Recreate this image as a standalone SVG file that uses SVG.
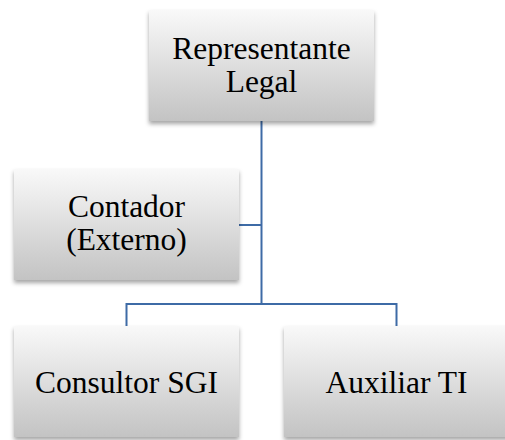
<svg xmlns="http://www.w3.org/2000/svg" width="505" height="440" viewBox="0 0 505 440">
  <style>
    .box { fill: url(#g); filter: url(#sh); }
    .lbl { font-size: 31.5px; fill: #000; text-anchor: middle; }
    .conn { stroke: #3e6ba6; stroke-width: 2; fill: none; }
  </style>
  <defs>
    <linearGradient id="g" x1="0" y1="0" x2="0" y2="1">
      <stop offset="0" stop-color="#f9f9f9"/>
      <stop offset="1" stop-color="#c3c3c3"/>
    </linearGradient>
    <filter id="sh" x="-10%" y="-10%" width="120%" height="130%">
      <feDropShadow dx="0" dy="3" stdDeviation="2" flood-color="#000" flood-opacity="0.35"/>
    </filter>
  </defs>
  <g id="connectors">
    <path class="conn" d="M261.5 121 V304"/>
    <path class="conn" d="M239 225 H261.5"/>
    <path class="conn" d="M126.5 326 V304 H396.5 V326"/>
  </g>
  <g font-family="Liberation Serif, Times New Roman, DejaVu Serif, serif">
    <g id="representante">
      <rect class="box" x="149" y="10" width="225" height="111"/>
      <text class="lbl" x="261.5" y="58.5">Representante</text>
      <text class="lbl" x="261.5" y="91.5">Legal</text>
    </g>
    <g id="contador">
      <rect class="box" x="14" y="169" width="225" height="111"/>
      <text class="lbl" x="126.5" y="217">Contador</text>
      <text class="lbl" x="126.5" y="250">(Externo)</text>
    </g>
    <g id="consultor">
      <rect class="box" x="14" y="326" width="225" height="111"/>
      <text class="lbl" x="126.5" y="393">Consultor SGI</text>
    </g>
    <g id="auxiliar">
      <rect class="box" x="284" y="326" width="225" height="111"/>
      <text class="lbl" x="396.5" y="393">Auxiliar TI</text>
    </g>
  </g>
</svg>
